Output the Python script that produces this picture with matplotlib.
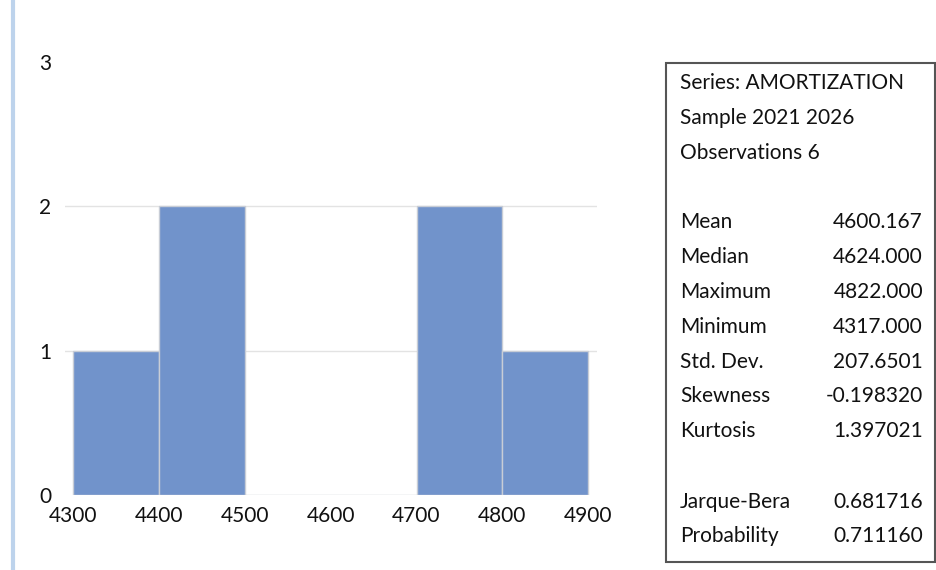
import matplotlib as mpl
mpl.use('Agg')
import matplotlib.pyplot as plt
from matplotlib.patches import Rectangle
from matplotlib.lines import Line2D

# histogram data
bin_edges = [4300, 4400, 4500, 4600, 4700, 4800, 4900]
counts = [1, 2, 0, 0, 2, 1]
y_ticks = [0, 1, 2, 3]

# descriptive statistics box
header_lines = ["Series: AMORTIZATION", "Sample 2021 2026", "Observations 6"]
stat_names = ["Mean", "Median", "Maximum", "Minimum", "Std. Dev.", "Skewness", "Kurtosis"]
stat_values = ["4600.167", "4624.000", "4822.000", "4317.000", "207.6501", "-0.198320", "1.397021"]
test_names = ["Jarque-Bera", "Probability"]
test_values = ["0.681716", "0.711160"]

W, H = 937, 570
plt.rcParams['font.family'] = ['Lato', 'DejaVu Sans']
fig = plt.figure(figsize=(W / 100, H / 100), dpi=100)

def fx(px):
    return px / W

def fy(py):
    return 1 - py / H

# the histogram
ax = fig.add_axes([fx(65), fy(495), fx(597) - fx(65), fy(62) - fy(495)])
widths = [bin_edges[i + 1] - bin_edges[i] for i in range(len(counts))]
ax.bar(bin_edges[:-1], counts, width=widths, align='edge', color='#7193CB',
       edgecolor='#C8CDD6', linewidth=1.0, zorder=3)
ax.set_xlim(4291, 4910)
ax.set_ylim(0, 3)
ax.set_xticks(bin_edges)
ax.set_yticks(y_ticks)
ax.tick_params(axis='both', length=0, labelsize=15, colors='#111111')
ax.tick_params(axis='x', pad=8)
ax.tick_params(axis='y', pad=10)
for s in ax.spines.values():
    s.set_visible(False)
# light gridlines only between the ends
for y in y_ticks[1:-1]:
    ax.axhline(y, color='#E3E3E3', linewidth=1.0, zorder=1)

# light blue rule on the left edge
fig.add_artist(Line2D([fx(13), fx(13)], [0, 1], color='#BDD3EC', linewidth=3))

# stats box
fig.add_artist(Rectangle((fx(666), fy(562)), fx(935) - fx(666), fy(63) - fy(562),
                         fill=False, edgecolor='#555555', linewidth=1.5))
fs = 15
xl, xr = fx(680), fx(923)
for i, t in enumerate(header_lines):
    fig.text(xl, fy(83 + 34.8 * i), t, fontsize=fs, va='center', ha='left', color='#111111')
for i, (n, v) in enumerate(zip(stat_names, stat_values)):
    yy = fy(222 + 34.9 * i)
    fig.text(xl, yy, n, fontsize=fs, va='center', ha='left', color='#111111')
    fig.text(xr, yy, v, fontsize=fs, va='center', ha='right', color='#111111')
for i, (n, v) in enumerate(zip(test_names, test_values)):
    yy = fy(502 + 34.5 * i)
    fig.text(xl, yy, n, fontsize=fs, va='center', ha='left', color='#111111')
    fig.text(xr, yy, v, fontsize=fs, va='center', ha='right', color='#111111')

fig.savefig('out.png', dpi=100)
